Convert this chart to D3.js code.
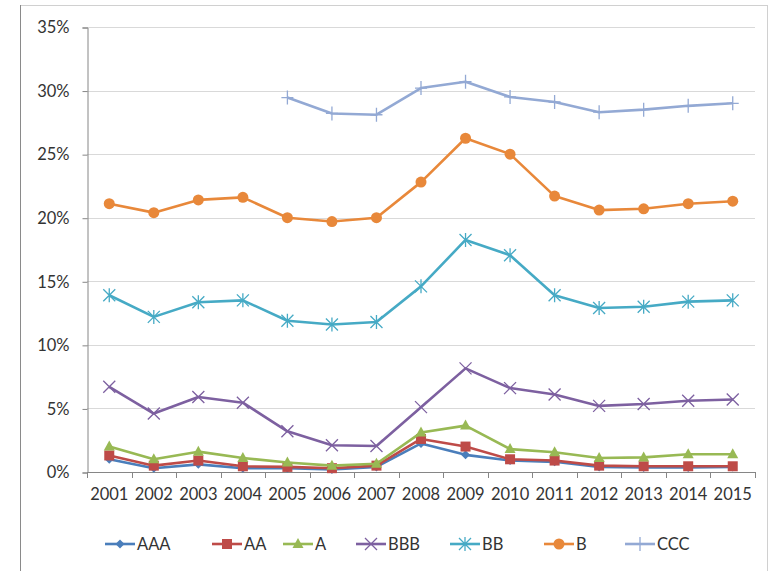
<!DOCTYPE html>
<html><head><meta charset="utf-8">
<script src="https://cdn.jsdelivr.net/npm/d3@7"></script>
<style>
html,body{margin:0;padding:0;background:#fff;}
svg text{font-family:Lato,"Liberation Sans",sans-serif;fill:#333;}
</style></head>
<body><svg id="c" width="777" height="571"></svg>
<script>
const years = ["2001","2002","2003","2004","2005","2006","2007","2008","2009","2010","2011","2012","2013","2014","2015"];
const yTicks = [0,5,10,15,20,25,30,35];
const seriesNames = ["AAA","AA","A","BBB","BB","B","CCC"];
const AAA = [1.0,0.3,0.6,0.3,0.3,0.2,0.4,2.25,1.35,0.9,0.8,0.4,0.35,0.35,0.4];
const AA  = [1.3,0.5,0.9,0.45,0.4,0.3,0.5,2.6,2.0,1.0,0.9,0.5,0.45,0.45,0.45];
const A   = [2.0,1.0,1.6,1.1,0.75,0.5,0.65,3.1,3.65,1.8,1.55,1.1,1.15,1.4,1.4];
const BBB = [6.7,4.6,5.9,5.45,3.2,2.1,2.05,5.1,8.15,6.6,6.1,5.2,5.35,5.6,5.7];
const BB  = [13.9,12.2,13.35,13.5,11.9,11.6,11.8,14.6,18.25,17.05,13.9,12.9,13.0,13.4,13.5];
const B   = [21.1,20.4,21.4,21.6,20.0,19.7,20.0,22.8,26.25,25.0,21.7,20.6,20.7,21.1,21.3];
const CCC = [null,null,null,null,29.45,28.2,28.1,30.2,30.7,29.5,29.1,28.3,28.5,28.8,29.0];
const seriesData = [AAA,AA,A,BBB,BB,B,CCC];
const colors = ["#4a7ebb","#be4b48","#98b954","#7d60a0","#46aac5","#e8883a","#93a9d4"];
const markers = ["diamond","square","triangle","x","asterisk","circle","plus"];

const svg = d3.select("#c");
svg.append("rect").attr("x",20.5).attr("y",5.5).attr("width",747).attr("height",570)
  .attr("fill","#fff").attr("stroke","#d0d0d0");
svg.append("line").attr("x1",20.5).attr("x2",20.5).attr("y1",5).attr("y2",571).attr("stroke","#8a8a8a");

const L=87, R=755, T=27, Bm=472;
const x = d3.scaleBand().domain(years).range([L,R]);
const y = d3.scaleLinear().domain([0,35]).range([Bm,T]);

svg.append("g").selectAll("line").data(yTicks.slice(1)).join("line")
  .attr("x1",L).attr("x2",R).attr("y1",d=>Math.round(y(d))+0.5).attr("y2",d=>Math.round(y(d))+0.5)
  .attr("stroke","#d9d9d9").attr("stroke-width",1);

const yAxis = svg.append("g").attr("transform",`translate(${L+0.5},0.5)`)
  .call(d3.axisLeft(y).tickValues(yTicks).tickFormat(d=>d+"%").tickSize(5).tickPadding(13));
yAxis.select(".domain").attr("stroke","#868686");
yAxis.selectAll(".tick line").attr("stroke","#868686");
yAxis.selectAll("text").style("font-size","16.5px").attr("fill","#333");

const xAxis = svg.append("g").attr("transform",`translate(0,${Math.round(y(0))+0.5})`)
  .call(d3.axisBottom(x).tickSize(0).tickPadding(16));
xAxis.select(".domain").attr("stroke","#868686").attr("d",`M${L},0H${R}`);
xAxis.selectAll("text").style("font-size","16.5px").attr("fill","#333");
svg.append("g").selectAll("line").data(d3.range(years.length+1)).join("line")
  .attr("x1",i=>Math.round(L+i*x.step())+0.5).attr("x2",i=>Math.round(L+i*x.step())+0.5)
  .attr("y1",Math.round(y(0))).attr("y2",Math.round(y(0))+6).attr("stroke","#868686");

function drawMarker(g, type, cx, cy, color){
  if(type==="diamond"){
    g.append("path").attr("d",`M${cx},${cy-4.5}L${cx+4.5},${cy}L${cx},${cy+4.5}L${cx-4.5},${cy}Z`).attr("fill",color);
  } else if(type==="square"){
    g.append("rect").attr("x",cx-5).attr("y",cy-5).attr("width",10).attr("height",10).attr("fill",color);
  } else if(type==="triangle"){
    g.append("path").attr("d",`M${cx},${cy-6}L${cx+5.5},${cy+4}L${cx-5.5},${cy+4}Z`).attr("fill",color);
  } else if(type==="x"){
    g.append("path").attr("d",`M${cx-6},${cy-6}L${cx+6},${cy+6}M${cx-6},${cy+6}L${cx+6},${cy-6}`).attr("stroke",color).attr("stroke-width",1.3).attr("fill","none");
  } else if(type==="asterisk"){
    g.append("path").attr("d",`M${cx-6},${cy-6}L${cx+6},${cy+6}M${cx-6},${cy+6}L${cx+6},${cy-6}M${cx},${cy-7}L${cx},${cy+7}`).attr("stroke",color).attr("stroke-width",1.3).attr("fill","none");
  } else if(type==="circle"){
    g.append("circle").attr("cx",cx).attr("cy",cy).attr("r",5.5).attr("fill",color);
  } else if(type==="plus"){
    g.append("path").attr("d",`M${cx},${cy-7}L${cx},${cy+7}M${cx-6},${cy}L${cx+6},${cy}`).attr("stroke",color).attr("stroke-width",1.3).attr("fill","none");
  }
}

const line = d3.line().defined(d=>d.v!=null).x(d=>x(d.yr)+x.bandwidth()/2).y(d=>y(d.v));
seriesData.forEach((arr,si)=>{
  const pts = arr.map((v,i)=>({yr:years[i],v}));
  const g = svg.append("g");
  g.append("path").datum(pts).attr("d",line).attr("fill","none")
    .attr("stroke",colors[si]).attr("stroke-width",2.6).attr("stroke-linejoin","round");
  pts.filter(d=>d.v!=null).forEach(d=>drawMarker(g,markers[si],x(d.yr)+x.bandwidth()/2,y(d.v),colors[si]));
});

const legX = [105,212,283,356,450,544,625];
const lg = svg.append("g");
seriesNames.forEach((n,i)=>{
  const lx = legX[i], ly = 544;
  lg.append("line").attr("x1",lx).attr("x2",lx+30).attr("y1",ly).attr("y2",ly).attr("stroke",colors[i]).attr("stroke-width",2.6);
  drawMarker(lg,markers[i],lx+15,ly,colors[i]);
  lg.append("text").attr("x",lx+32).attr("y",ly).attr("dy","0.35em").style("font-size","16.5px").text(n);
});
</script></body></html>
